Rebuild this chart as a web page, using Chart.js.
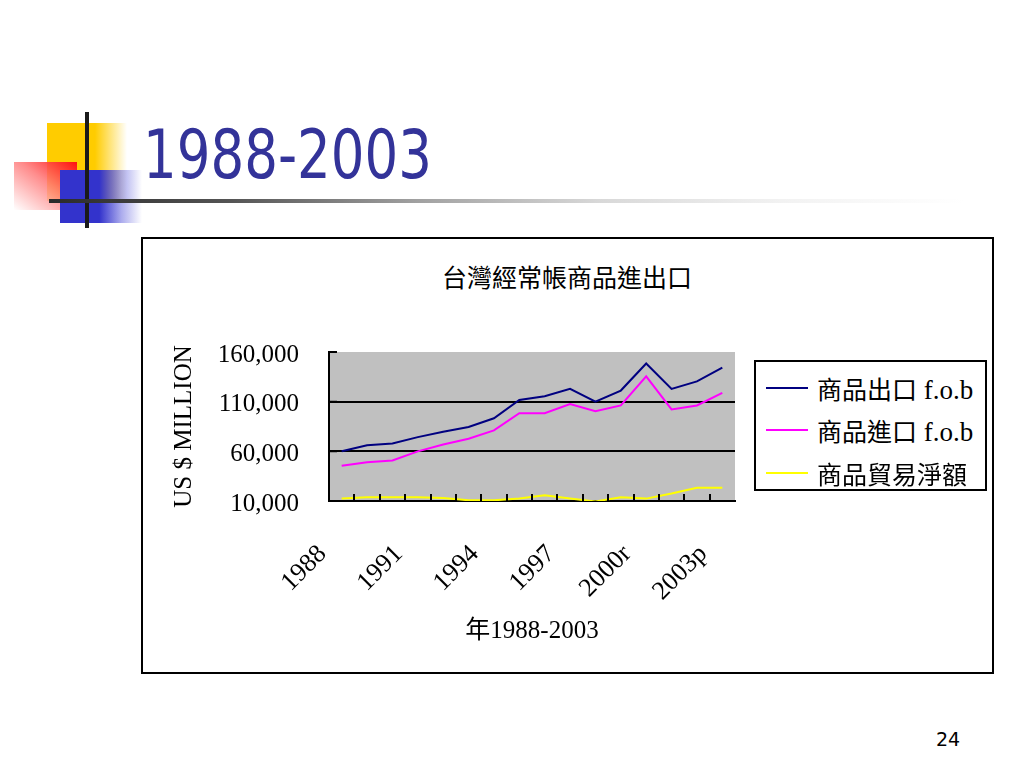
<!DOCTYPE html>
<html>
<head>
<meta charset="utf-8">
<script src="https://cdn.jsdelivr.net/npm/chart.js@4.4.1/dist/chart.umd.min.js"></script>
<style>
  html,body{margin:0;padding:0;background:#fff;}
  body{width:1024px;height:768px;position:relative;overflow:hidden;}
  .abs{position:absolute;}
  #slideTitle{left:143px;top:122px;font-family:'DejaVu Sans',sans-serif;font-size:67px;color:#333399;white-space:nowrap;transform-origin:0 0;line-height:1;}
  #chartBox{left:141px;top:237px;width:849px;height:433px;border:2px solid #000;}
  #chartTitle{left:367px;width:400px;top:258px;text-align:center;font-family:'Noto Sans CJK TC',sans-serif;font-size:25px;line-height:36px;color:#000;}
  #legend{left:754px;top:360px;width:233px;height:131px;border:2px solid #000;background:#fff;box-sizing:border-box;}
  .lrow{position:absolute;left:0;height:40px;width:100%;}
  .lline{position:absolute;left:10px;width:42px;top:19px;height:2px;}
  .ltext{position:absolute;left:61px;top:0;line-height:40px;font-size:25px;font-family:'Noto Sans CJK TC','Liberation Serif',serif;white-space:nowrap;color:#000;}
  .ltext .lat{font-family:'Liberation Serif',serif;font-size:27px;}
  #pageNo{left:936px;top:728px;font-family:'DejaVu Sans',sans-serif;font-size:19px;color:#000;}
</style>
</head>
<body>
<!-- decorative squares -->
<div class="abs" style="left:47px;top:123px;width:80px;height:78px;background:linear-gradient(to right,#ffcc00 0%,#ffcc00 60%,rgba(255,220,80,0) 100%);"></div>
<div class="abs" style="left:14px;top:162px;width:63px;height:48px;background:linear-gradient(to bottom left,#ff1010 0%,rgba(255,120,120,0.85) 45%,rgba(255,255,255,0.9) 100%);"></div>
<div class="abs" style="left:60px;top:170px;width:82px;height:53px;background:linear-gradient(to right,#3333cc 0%,#3333cc 48%,rgba(90,90,220,0.5) 75%,rgba(255,255,255,0) 100%);"></div>
<div class="abs" style="left:85px;top:112px;width:4px;height:116px;background:#1a1a1a;"></div>
<div class="abs" style="left:49px;top:199px;width:915px;height:4px;background:linear-gradient(to right,#2a2a2a 0%,#555 20%,#a0a0a0 40%,#d8d8d8 60%,#f2f2f2 80%,#ffffff 100%);"></div>

<div id="slideTitle" class="abs">1988-2003</div>
<div id="chartBox" class="abs"></div>
<div id="chartTitle" class="abs">台灣經常帳商品進出口</div>

<div class="abs" style="left:143px;top:239px;width:849px;height:433px;">
  <canvas id="c" width="849" height="433"></canvas>
</div>

<div id="legend" class="abs"></div>
<div id="pageNo" class="abs">24</div>

<script>
// ---- data ----
const years = ['1988','1989','1990','1991','1992','1993','1994','1995','1996','1997','1998','1999','2000r','2001','2002','2003p'];
const exportVals = [60000, 66100, 67800, 74300, 79700, 84500, 93300, 111700, 115400, 122900, 110000, 121200, 148400, 122900, 130400, 144300];
const importVals = [45400, 49100, 50800, 60000, 66800, 72600, 81100, 98400, 98400, 107600, 100500, 106200, 135500, 102200, 106200, 118800];
const netVals    = [12400, 13800, 13800, 13800, 13100, 10700, 10700, 12400, 15800, 12400, 9500, 13800, 12400, 17500, 23300, 23300];
const seriesNames = ['商品出口 f.o.b', '商品進口 f.o.b', '商品貿易淨額'];
const seriesColors = ['#000080', '#ff00ff', '#ffff00'];
const yTicks = [10000, 60000, 110000, 160000];
const yTitle = 'US $ MILLION';
const xTitle = '年1988-2003';

// scale slide title to reference width
(function(){
  const t = document.getElementById('slideTitle');
  const w = t.getBoundingClientRect().width;
  t.style.transform = 'scaleX(' + (289 / w) + ')';
})();

// HTML legend
(function(){
  const lg = document.getElementById('legend');
  const tops = [6, 48, 91];
  seriesNames.forEach((n, i) => {
    const row = document.createElement('div');
    row.className = 'lrow';
    row.style.top = tops[i] + 'px';
    const ln = document.createElement('div');
    ln.className = 'lline';
    ln.style.background = seriesColors[i];
    const tx = document.createElement('div');
    tx.className = 'ltext';
    const m = n.match(/^(\S+)(\s.*)?$/);
    tx.innerHTML = m[1] + (m[2] ? '<span class="lat">' + m[2] + '</span>' : '');
    row.appendChild(ln); row.appendChild(tx);
    lg.appendChild(row);
  });
})();

const serif = "'Liberation Serif','Times New Roman',serif";

const plotBg = {
  id: 'plotBg',
  beforeDraw(chart) {
    const a = chart.chartArea, ctx = chart.ctx;
    ctx.save();
    ctx.fillStyle = '#c0c0c0';
    ctx.fillRect(a.left, a.top, a.right - a.left, a.bottom - a.top);
    ctx.restore();
  }
};

const inwardTicks = {
  id: 'inwardTicks',
  afterDraw(chart) {
    const ctx = chart.ctx, xs = chart.scales.x, ys = chart.scales.y, a = chart.chartArea;
    const step = xs.getPixelForValue(1) - xs.getPixelForValue(0);
    ctx.save();
    ctx.strokeStyle = '#000';
    ctx.lineWidth = 2;
    ctx.beginPath();
    for (let i = 1; i < years.length; i++) {
      const x = Math.round(xs.getPixelForValue(i) - step / 2);
      ctx.moveTo(x, a.bottom);
      ctx.lineTo(x, a.bottom - 7);
    }
    yTicks.forEach(v => {
      const y = ys.getPixelForValue(v);
      ctx.moveTo(a.left, y);
      ctx.lineTo(a.left + 8, y);
    });
    ctx.stroke();
    ctx.restore();
  }
};

new Chart(document.getElementById('c'), {
  type: 'line',
  data: {
    labels: years,
    datasets: [
      { label: seriesNames[0], data: exportVals, borderColor: seriesColors[0], borderWidth: 2, pointRadius: 0, tension: 0, fill: false },
      { label: seriesNames[1], data: importVals, borderColor: seriesColors[1], borderWidth: 2, pointRadius: 0, tension: 0, fill: false },
      { label: seriesNames[2], data: netVals, borderColor: seriesColors[2], borderWidth: 2, pointRadius: 0, tension: 0, fill: false }
    ]
  },
  plugins: [plotBg, inwardTicks],
  options: {
    responsive: false,
    animation: false,
    devicePixelRatio: 1,
    layout: { padding: { left: 26, right: 257, top: 113, bottom: 22 } },
    plugins: { legend: { display: false }, title: { display: false }, tooltip: { enabled: false } },
    scales: {
      x: {
        type: 'category',
        offset: true,
        grid: { display: true, drawOnChartArea: false, drawTicks: false, offset: true },
        border: { display: true, color: '#000', width: 2 },
        ticks: {
          autoSkip: false, minRotation: 45, maxRotation: 45, padding: 38, labelOffset: -19,
          color: '#000', font: { family: serif, size: 26 },
          callback: function(v, i) { return i % 3 === 0 ? years[i] : ''; }
        },
        title: { display: true, text: xTitle, color: '#000', font: { family: "'Liberation Serif','Noto Sans CJK TC',serif", size: 25 }, padding: { top: 4, bottom: 4 } },
        afterFit(s) { s.height = 149; }
      },
      y: {
        min: 10000, max: 160000,
        afterBuildTicks(s) { s.ticks = yTicks.map(v => ({ value: v })); },
        grid: {
          drawTicks: false,
          color: ctx => (ctx.tick && ctx.tick.value === 160000) ? 'rgba(0,0,0,0)' : '#000',
          lineWidth: 2
        },
        border: { display: true, color: '#000', width: 2 },
        ticks: {
          padding: 30, labelOffset: 3, color: '#000', font: { family: serif, size: 25 },
          callback: v => v.toLocaleString('en-US')
        },
        title: { display: true, text: yTitle, color: '#000', font: { family: serif, size: 25 }, padding: { top: 0, bottom: 0 } },
        afterFit(s) { s.width = 160; }
      }
    }
  }
});
</script>
</body>
</html>
